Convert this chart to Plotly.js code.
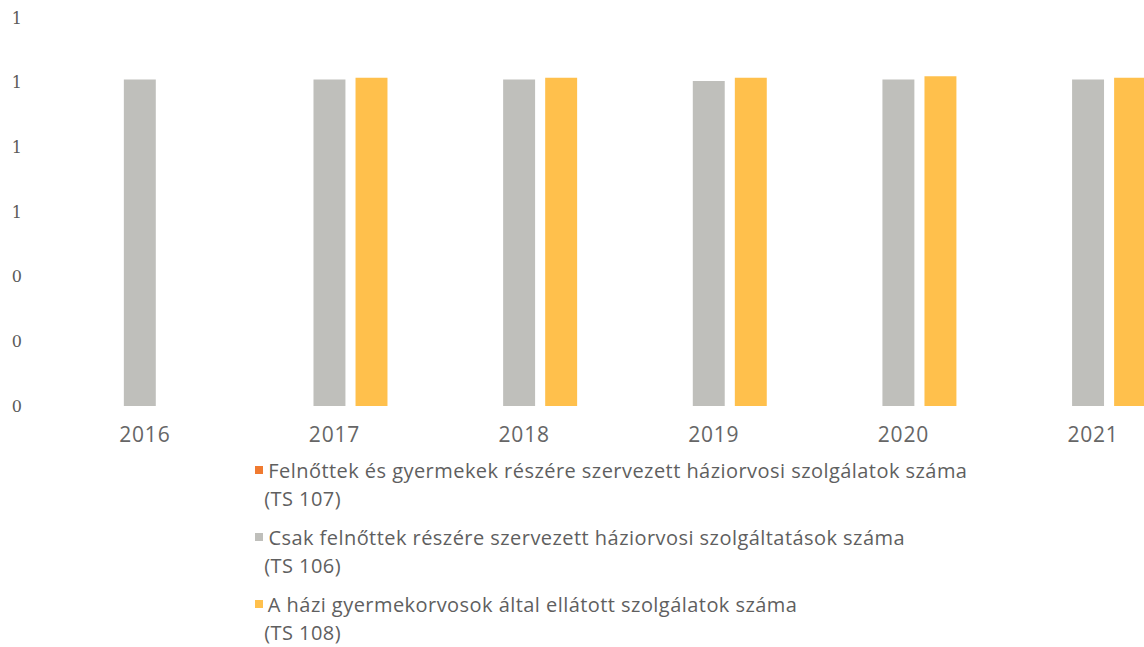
<!DOCTYPE html>
<html>
<head>
<meta charset="utf-8">
<script src="https://cdn.plot.ly/plotly-3.0.1.min.js"></script>
<style>
html,body{margin:0;padding:0;background:#fff;}
#chart{width:1144px;height:647px;}
#chart .annotation-text{letter-spacing:0.45px;}
#chart .xtick text{letter-spacing:0.8px;}
</style>
</head>
<body>
<div id="chart"></div>
<script>
// ---- data ----
var years = ["2016", "2017", "2018", "2019", "2020", "2021"];
var seriesNames = [
  "Felnőttek és gyermekek részére szervezett háziorvosi szolgálatok száma",
  "Csak felnőttek részére szervezett háziorvosi szolgáltatások száma",
  "A házi gyermekorvosok által ellátott szolgálatok száma"
];
var seriesCodes = ["(TS 107)", "(TS 106)", "(TS 108)"];
var ts107 = [0, 0, 0, 0, 0, 0];
var ts106 = [1.01, 1.01, 1.01, 1.005, 1.01, 1.01];
var ts108 = [null, 1.015, 1.015, 1.015, 1.02, 1.015];
var yTickVals = [0, 0.2, 0.4, 0.6, 0.8, 1.0, 1.2];

// ---- styles ----
var colors = ["#F07A30", "#BFBFBB", "#FFC04C"];
var values = [ts107, ts106, ts108];

var traces = values.map(function (v, i) {
  return {
    type: "bar",
    x: years,
    y: v,
    name: seriesNames[i] + " " + seriesCodes[i],
    marker: { color: colors[i], line: { width: 0 } },
    hoverinfo: "x+y+name"
  };
});

var W = 1144, H = 647, ML = 45, MT = 18, MB = 241;
var plotW = W - ML, plotH = H - MT - MB;
function px2paperX(px) { return (px - ML) / plotW; }
function px2paperY(py) { return (H - MB - py) / plotH; }

var LS = 0.45; // letter-spacing (px) applied by CSS, compensated here
var legendTop = [470, 537, 604];   // pixel y of first line centre
var lineGap = 28;
var legendFont = { family: "Open Sans, sans-serif", size: 20, color: "#5f5f5f" };

var annotations = [];
var shapes = [];
for (var j = 0; j < seriesNames.length; j++) {
  annotations.push({
    xref: "paper", yref: "paper",
    x: px2paperX(266 + seriesNames[j].length * LS / 2), y: px2paperY(legendTop[j]),
    xanchor: "left", yanchor: "middle",
    text: seriesNames[j], showarrow: false, font: legendFont
  });
  annotations.push({
    xref: "paper", yref: "paper",
    x: px2paperX(262 + seriesCodes[j].length * LS / 2), y: px2paperY(legendTop[j] + lineGap),
    xanchor: "left", yanchor: "middle",
    text: seriesCodes[j], showarrow: false, font: legendFont
  });
  shapes.push({
    type: "rect", xref: "paper", yref: "paper",
    x0: px2paperX(255), x1: px2paperX(263),
    y0: px2paperY(legendTop[j] + 4), y1: px2paperY(legendTop[j] - 4),
    fillcolor: colors[j], line: { width: 0 }
  });
}

var layout = {
  width: W,
  height: H,
  margin: { l: ML, r: 0, t: MT, b: MB },
  paper_bgcolor: "#ffffff",
  plot_bgcolor: "#ffffff",
  barmode: "group",
  bargap: 0.335,
  bargroupgap: 0.24,
  showlegend: false,
  xaxis: {
    type: "category",
    range: [-0.5, 5.295],
    showgrid: false,
    zeroline: false,
    showline: false,
    ticks: "",
    ticklabelstandoff: 14,
    ticklabelshift: 5,
    tickfont: { family: "Open Sans, sans-serif", size: 21, color: "#666666" }
  },
  yaxis: {
    range: [0, 1.2],
    tickvals: yTickVals,
    tickformat: ".0f",
    showgrid: false,
    zeroline: false,
    showline: false,
    ticks: "",
    ticklabelstandoff: 22,
    tickfont: { family: "DejaVu Serif, serif", size: 16, color: "#5a5a5a" }
  },
  shapes: shapes,
  annotations: annotations
};

Plotly.newPlot("chart", traces, layout, { displayModeBar: false, staticPlot: true });
</script>
</body>
</html>
